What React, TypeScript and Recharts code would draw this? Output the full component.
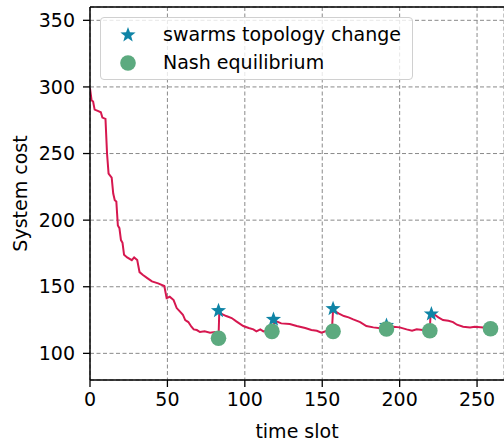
import React from 'react';
import {
  ComposedChart, Line, Scatter, XAxis, YAxis, CartesianGrid, ReferenceLine,
} from 'recharts';

const curveX = [0, 1, 2, 3, 5, 7, 8, 10, 11, 12, 14, 15, 16, 17, 18, 19, 20, 21, 22, 24, 27, 28.5, 30.5, 32, 34, 37, 40, 44, 48, 49.5, 51.5, 54, 56, 58, 60, 61.5, 63.5, 65.5, 67, 69, 71, 74, 77.5, 80.5, 81.5, 83, 83.5, 86, 88, 91.5, 94.5, 99, 102.5, 105.5, 107.5, 110, 112, 114, 117.5, 118.8, 119, 120.5, 123.5, 129, 133.5, 139, 143, 146.5, 149.5, 153, 156.2, 157, 160.5, 164, 167, 170, 174.5, 178.5, 183, 187.5, 191.5, 196, 200, 204.5, 208, 211, 215, 219.5, 220, 222, 225, 228, 231.5, 234.5, 237, 241, 245.5, 248.5, 254, 259.5];
const curveY = [299, 290, 289, 283, 282, 281, 277, 276, 250, 235, 232, 220, 215, 214, 196, 194, 185, 183, 174, 172, 170, 172, 170, 161, 159, 156.5, 154, 152.5, 150.5, 141.5, 142.5, 140, 134, 131.5, 129, 125, 123.5, 120, 118, 117.5, 116, 116.5, 115.5, 116, 111.5, 111.5, 131, 129, 128, 126.5, 124, 120.5, 119, 118, 116.5, 118, 116.5, 117, 116.5, 118, 125, 124, 122.5, 122, 120.5, 119, 117.5, 117, 115.5, 117, 116.5, 132.5, 130, 128, 127, 125.5, 123.5, 120.5, 119.5, 118.8, 118.8, 120, 119.5, 118, 117, 118, 117.5, 117.5, 130.5, 129.5, 127, 125, 124.5, 123.5, 121.5, 120, 119.5, 120, 119.5, 118];

const starX = [83, 118.5, 157, 191.5, 220.5];
const starY = [132, 125.5, 133.5, 121, 129.5];

const nashX = [83, 117.5, 157, 191.5, 219.5, 258.7];
const nashY = [111.3, 116.5, 116.5, 118.3, 117, 118.5];

const xTicks = [0, 50, 100, 150, 200, 250];
const yTicks = [100, 150, 200, 250, 300, 350];

const legendLabels = ['swarms topology change', 'Nash equilibrium'];

const curve = curveX.map((x, i) => ({ x, y: curveY[i] }));
const stars = starX.map((x, i) => ({ x, y: starY[i] }));
const nash = nashX.map((x, i) => ({ x, y: nashY[i] }));

const LINE_COLOR = '#d6174f';
const STAR_COLOR = '#0f84a6';
const NASH_COLOR = '#5caa7f';
const FONT = '"DejaVu Sans", sans-serif';

function starPoints(cx: number, cy: number, R: number, r: number) {
  const pts: string[] = [];
  for (let i = 0; i < 10; i++) {
    const ang = -Math.PI / 2 + (i * Math.PI) / 5;
    const rad = i % 2 === 0 ? R : r;
    pts.push(`${cx + rad * Math.cos(ang)},${cy + rad * Math.sin(ang)}`);
  }
  return pts.join(' ');
}

const StarShape = (props: any) => {
  const { cx, cy } = props;
  if (cx == null || cy == null) return null;
  return <polygon points={starPoints(cx, cy, 8, 3.3)} fill={STAR_COLOR} />;
};

const DotShape = (props: any) => {
  const { cx, cy } = props;
  if (cx == null || cy == null) return null;
  return <circle cx={cx} cy={cy} r={7.8} fill={NASH_COLOR} />;
};

const LegendBox = () => (
  <div
    style={{
      position: 'absolute',
      left: 100,
      top: 17,
      width: 313,
      height: 63,
      border: '1.3px solid #d0d0d0',
      borderRadius: 4,
      background: 'rgba(255,255,255,0.8)',
      fontFamily: FONT,
      fontSize: 19,
      color: '#000',
      boxSizing: 'border-box',
    }}
  >
    <svg width={40} height={61} style={{ position: 'absolute', left: 7, top: 0 }}>
      <polygon points={starPoints(20, 17, 8, 3.3)} fill={STAR_COLOR} />
      <circle cx={20} cy={45} r={7.8} fill={NASH_COLOR} />
    </svg>
    <div style={{ position: 'absolute', left: 62, top: 4, lineHeight: '24px', whiteSpace: 'nowrap' }}>
      {legendLabels[0]}
    </div>
    <div style={{ position: 'absolute', left: 62, top: 32, lineHeight: '24px', whiteSpace: 'nowrap' }}>
      {legendLabels[1]}
    </div>
  </div>
);

const YLabel = (props: any) => {
  const vb = props.viewBox || {};
  const cy = (vb.y ?? 7) + (vb.height ?? 373) / 2;
  return (
    <text
      x={20}
      y={cy}
      transform={`rotate(-90, 20, ${cy})`}
      textAnchor="middle"
      dominantBaseline="central"
      fontFamily={FONT}
      fontSize={19}
      fill="#000"
    >
      System cost
    </text>
  );
};

export default function App() {
  return (
    <div style={{ position: 'absolute', left: 0, top: 0, width: 504, height: 441, background: '#fff' }}>
      <ComposedChart width={504} height={441} margin={{ top: 7, right: 0, bottom: 0, left: 0 }}>
        <CartesianGrid stroke="#8a8a8a" strokeDasharray="4 2.5" strokeWidth={1} />
        <XAxis
          dataKey="x"
          type="number"
          domain={[0, 267.4]}
          ticks={xTicks}
          allowDataOverflow
          height={61}
          tickSize={7}
          tickMargin={6}
          axisLine={{ stroke: '#000', strokeWidth: 1.5 }}
          tickLine={{ stroke: '#000', strokeWidth: 1.3 }}
          tick={{ fill: '#000', fontSize: 19, fontFamily: FONT }}
          label={{ value: 'time slot', position: 'insideBottom', offset: 3, fill: '#000', fontSize: 19, fontFamily: FONT }}
        />
        <YAxis
          type="number"
          domain={[80, 360]}
          ticks={yTicks}
          allowDataOverflow
          width={90}
          tickSize={7}
          tickMargin={8}
          axisLine={{ stroke: '#000', strokeWidth: 1.5 }}
          tickLine={{ stroke: '#000', strokeWidth: 1.3 }}
          tick={{ fill: '#000', fontSize: 19, fontFamily: FONT }}
          label={<YLabel />}
        />
        <ReferenceLine y={360} stroke="#000" strokeWidth={1.5} />
        <Scatter data={stars} dataKey="y" shape={<StarShape />} isAnimationActive={false} />
        <Scatter data={nash} dataKey="y" shape={<DotShape />} isAnimationActive={false} />
        <Line
          data={curve}
          dataKey="y"
          type="linear"
          stroke={LINE_COLOR}
          strokeWidth={2}
          dot={false}
          activeDot={false}
          isAnimationActive={false}
        />
      </ComposedChart>
      <LegendBox />
    </div>
  );
}
